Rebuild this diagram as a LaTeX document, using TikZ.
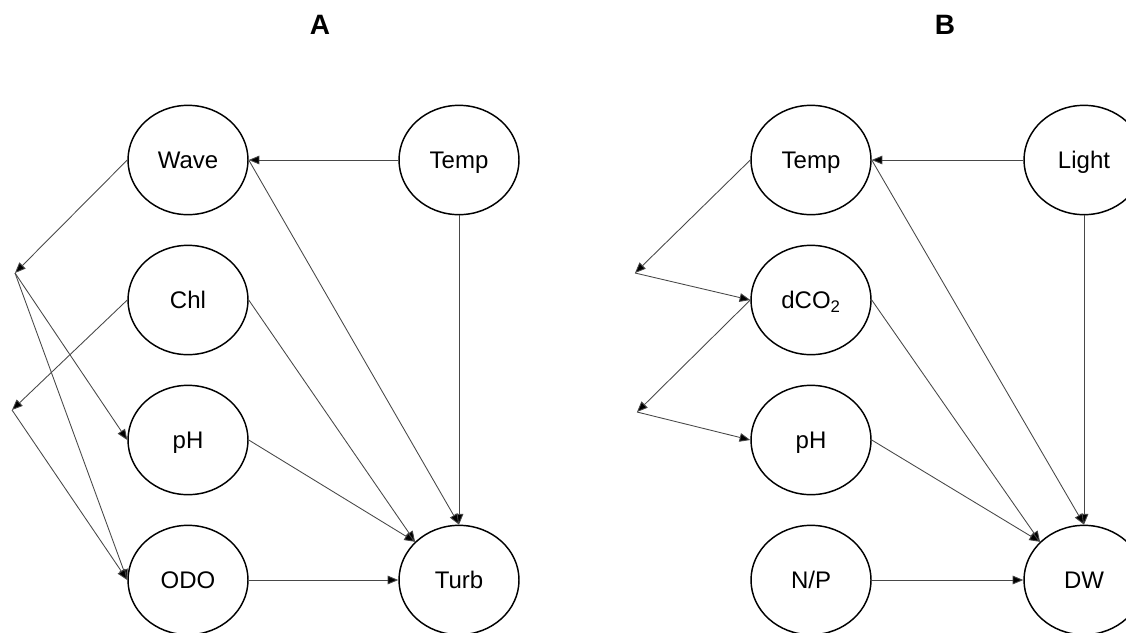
\documentclass[tikz,border=0pt]{standalone}
\usepackage{fontspec}
\setmainfont{Liberation Sans}
\usetikzlibrary{shapes.geometric,arrows.meta}

\begin{document}
\begin{tikzpicture}[x=0.75pt,y=-0.75pt,
  var/.style={ellipse, draw=black, line width=1.1pt, minimum width=90pt,
    minimum height=82pt, inner sep=0pt, text height=13pt, text depth=0pt,
    font=\fontsize{18}{20}\selectfont},
  link/.style={draw=black!72, line width=0.65pt,
    -{Triangle[length=8pt,width=6.5pt,fill=black]}},
  ttl/.style={font=\fontsize{21}{24}\selectfont\bfseries}]
\useasboundingbox (0,0) rectangle (1126,632);

% panel titles
\node[ttl] (titleA) at (320,25) {A};
\node[ttl] (titleB) at (945,25) {B};

% ---- panel A ----
\node[var] (wave)  at (188,160) {Wave};
\node[var] (tempA) at (459,160) {Temp};
\node[var] (chl)   at (188,300) {Chl};
\node[var] (phA)   at (188,440) {pH};
\node[var] (odo)   at (188,580) {ODO};
\node[var] (turb)  at (459,580) {Turb};
\coordinate (p1) at (15,273);
\coordinate (p2) at (12,410);

\draw[link] (tempA.west) -- (wave.east);
\draw[link] (tempA.south) -- (turb.north);
\draw[link] (wave.east) -- (turb.north);
\draw[link] (wave.west) -- (p1);
\draw[link] (p1) -- (phA.west);
\draw[link] (p1) -- (odo.west);
\draw[link] (chl.west) -- (p2);
\draw[link] (p2) -- (odo.west);
\draw[link] (chl.east) -- (turb.139);
\draw[link] (phA.east) -- (turb.139);
\draw[link] (odo.east) -- (turb.west);

% ---- panel B ----
\node[var] (tempB) at (811,160) {Temp};
\node[var] (light) at (1084,160) {Light};
\node[var] (dco)   at (811,300) {dCO\textsubscript{2}};
\node[var] (phB)   at (811,440) {pH};
\node[var] (np)    at (811,580) {N/P};
\node[var] (dw)    at (1084,580) {DW};
\coordinate (q1) at (635,273);
\coordinate (q2) at (637,412);

\draw[link] (light.west) -- (tempB.east);
\draw[link] (light.south) -- (dw.north);
\draw[link] (tempB.east) -- (dw.north);
\draw[link] (tempB.west) -- (q1);
\draw[link] (q1) -- (dco.west);
\draw[link] (dco.west) -- (q2);
\draw[link] (q2) -- (phB.west);
\draw[link] (dco.east) -- (dw.139);
\draw[link] (phB.east) -- (dw.139);
\draw[link] (np.east) -- (dw.west);
\end{tikzpicture}
\end{document}
